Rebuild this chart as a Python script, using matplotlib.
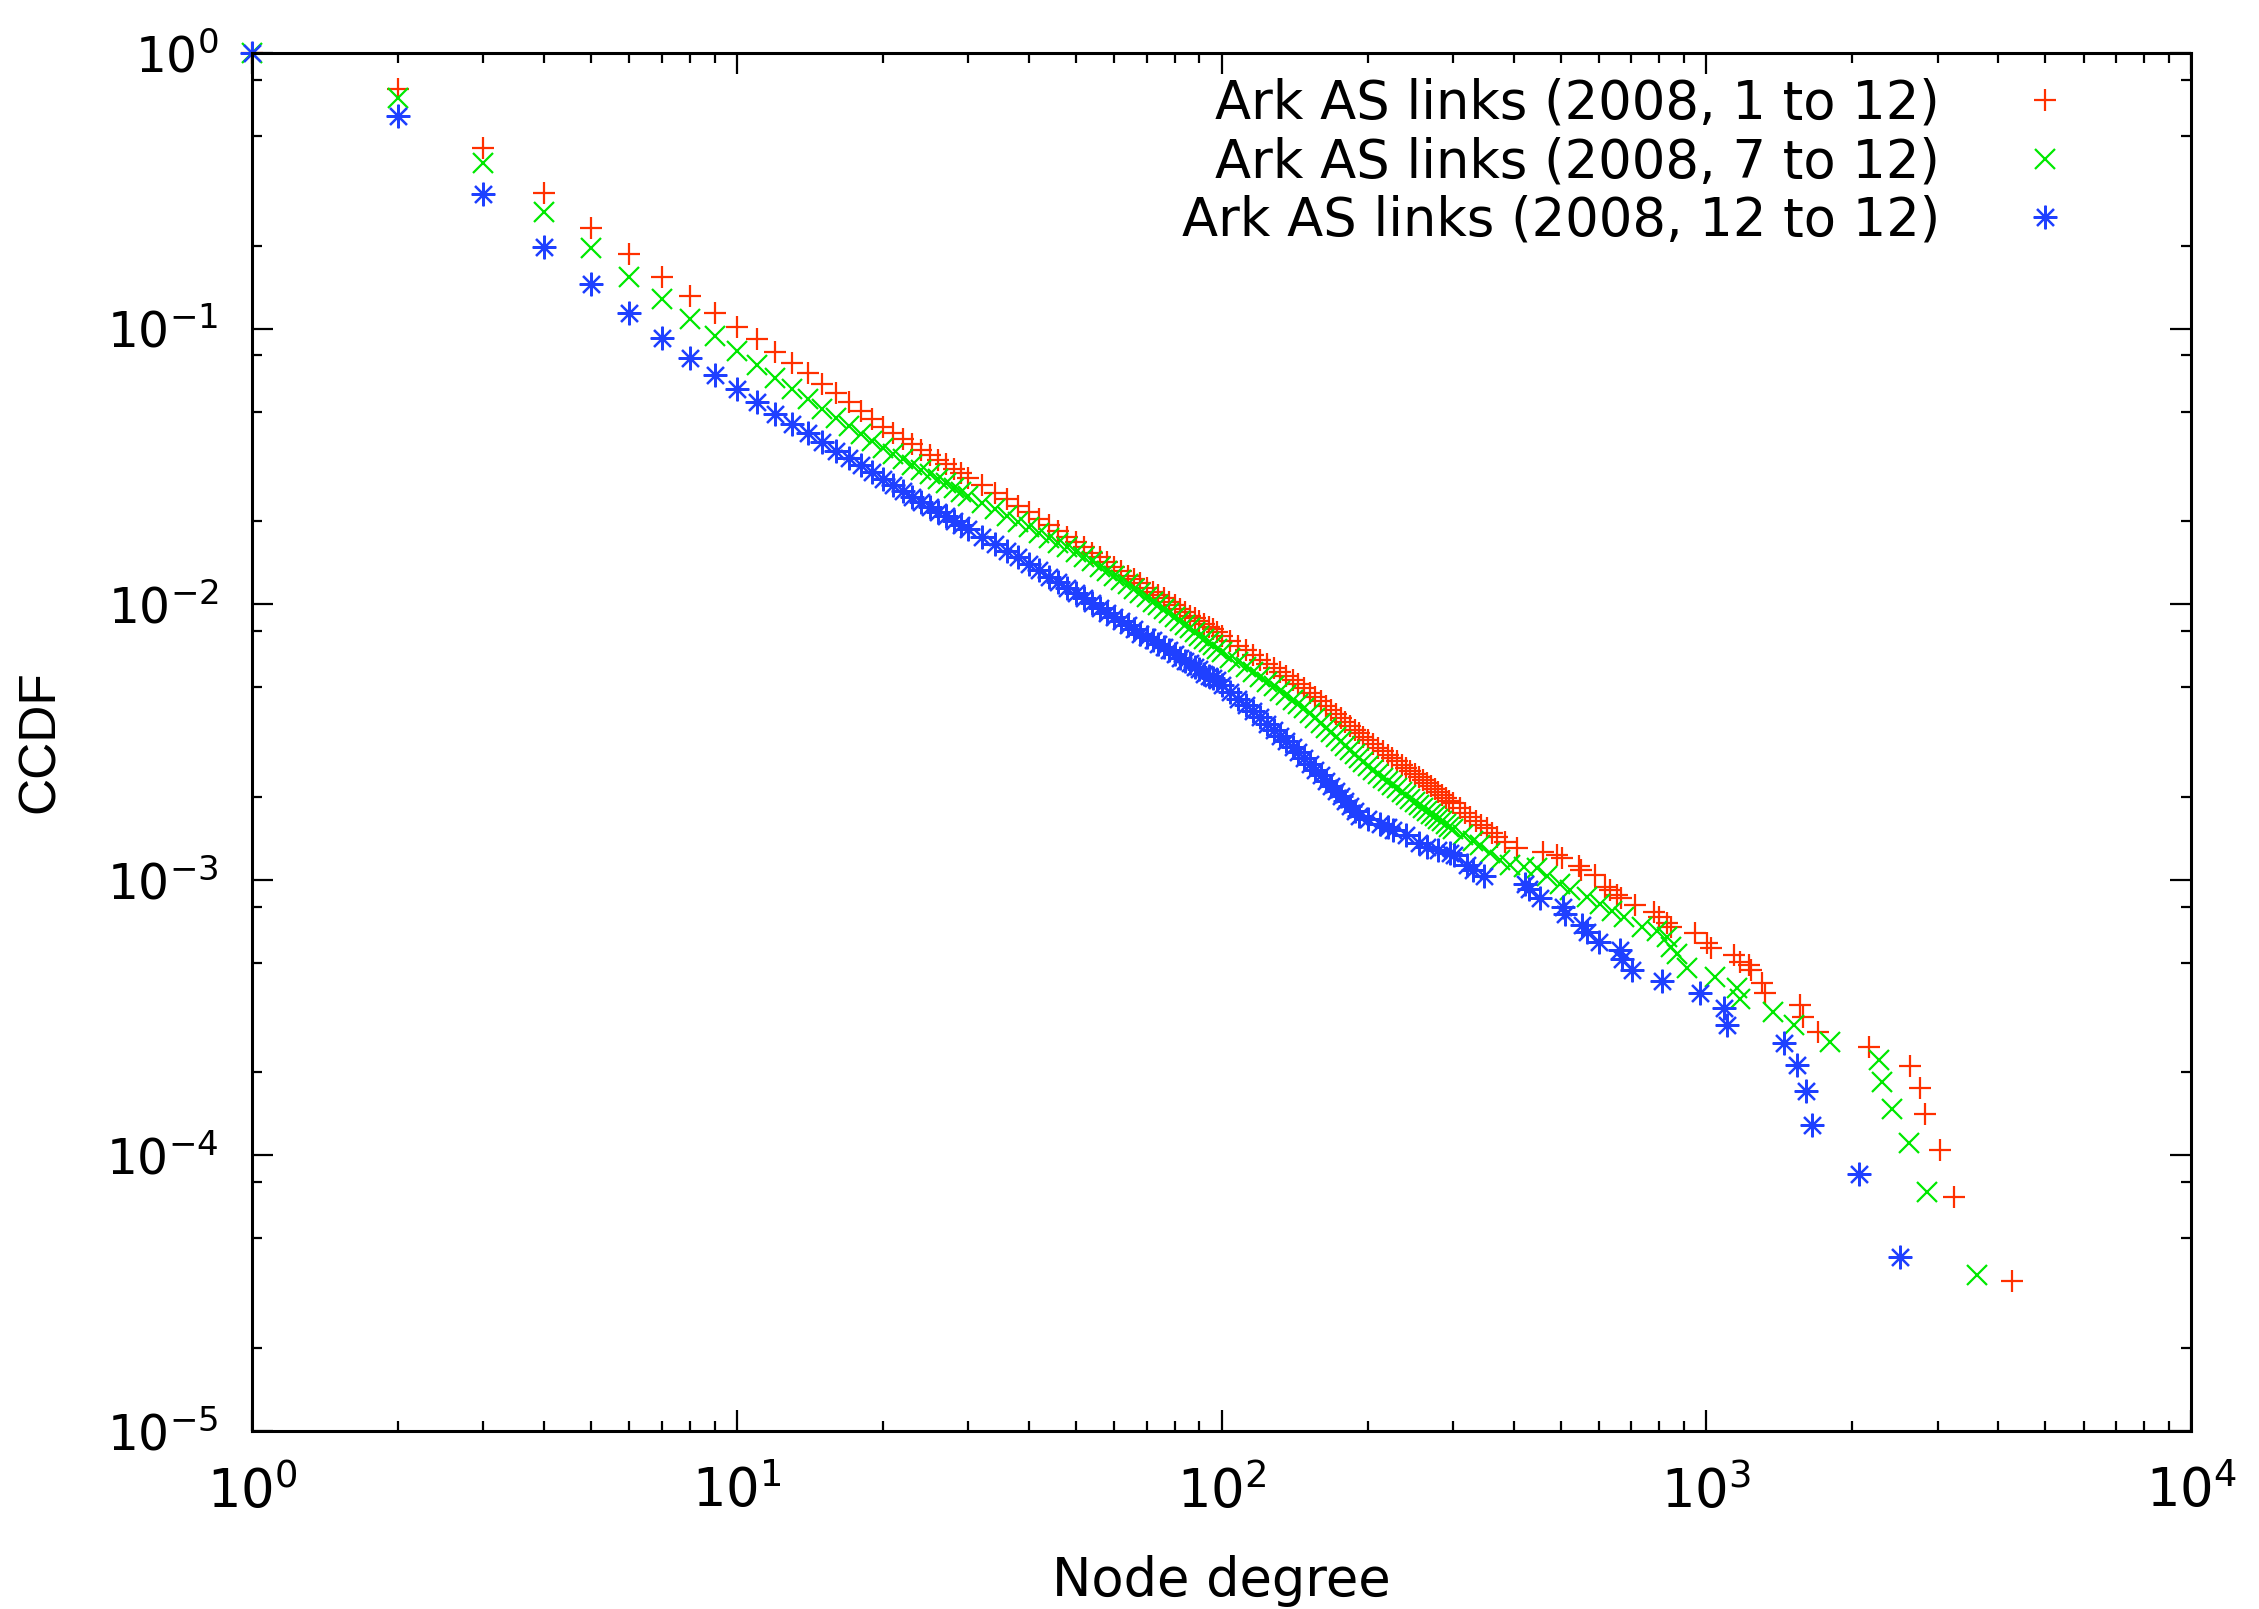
import matplotlib
matplotlib.use("Agg")
import matplotlib.pyplot as plt
from matplotlib.ticker import LogLocator, FixedLocator, FixedFormatter, NullFormatter

plt.rcParams['font.family'] = ['DejaVu Sans']
plt.rcParams['mathtext.fontset'] = 'custom'
plt.rcParams['mathtext.rm'] = 'DejaVu Sans'
plt.rcParams['mathtext.it'] = 'DejaVu Sans'
plt.rcParams['mathtext.default'] = 'regular'

# node degrees shared by the dense part of the three curves
deg_dense = [1, 2, 3, 4, 5, 6, 7, 8, 9, 10, 11, 12, 13, 14, 15, 16, 17, 18, 19, 20,
             21, 22, 23, 24, 25, 26, 27, 28, 29, 30,
             32, 34, 36, 38, 40, 42, 44, 46, 48, 50, 52, 54, 56, 58, 60, 62, 64, 66, 68, 70,
             72, 74, 76, 78, 80, 82, 84, 86, 88, 90, 92, 94, 96, 98, 100,
             104, 108, 112, 116, 120, 124, 128, 132, 136, 140, 144, 148, 152, 156, 160,
             164, 168, 172, 176, 180, 184, 188, 192, 196, 200]
deg_mid = [205, 210, 215, 220, 225, 230, 235, 240, 245, 250,
           255, 260, 265, 270, 275, 280, 285, 290, 295, 300]

# Ark AS links (2008, 1 to 12)
red_dense = [1.0, 0.738, 0.453, 0.31, 0.232, 0.186, 0.154, 0.1317, 0.1136, 0.1016,
             0.0914, 0.0825, 0.0748, 0.0688, 0.0631, 0.0582, 0.0540, 0.0503, 0.0470, 0.0441,
             0.0419, 0.0399, 0.0381, 0.0364, 0.0349, 0.0335, 0.0322, 0.0310, 0.0299, 0.0288,
             0.0270, 0.0254, 0.0240, 0.0227, 0.0216, 0.0204, 0.0194, 0.0184, 0.0176, 0.0168,
             0.0161, 0.0154, 0.0148, 0.0142, 0.0137, 0.0132, 0.0127, 0.0123, 0.0119, 0.0115,
             0.0111, 0.0108, 0.0105, 0.0102, 0.0099, 0.0096, 0.0094, 0.0091, 0.0089, 0.0087,
             0.0085, 0.0083, 0.0081, 0.0079, 0.0077,
             0.00738, 0.00708, 0.00680, 0.00654, 0.00630, 0.00607, 0.00586, 0.00566, 0.00547, 0.00529,
             0.00512, 0.00497, 0.00478, 0.00460, 0.00444, 0.00428, 0.00413, 0.00399, 0.00386, 0.00374,
             0.00362, 0.00351, 0.00340, 0.00330, 0.00321]
red_mid = [0.00311, 0.00302, 0.00293, 0.00285, 0.00277, 0.00269, 0.00262, 0.00255, 0.00249, 0.00243,
           0.00237, 0.00231, 0.00225, 0.00219, 0.00214, 0.00209, 0.00204, 0.00199, 0.00194, 0.00190]
red_tail_x = [310, 318, 326, 335, 343, 352, 361, 370, 385, 406,
              461, 491, 503, 545, 552, 590, 618, 633, 653, 665,
              713, 778, 797, 829, 845, 948, 1002, 1020, 1138, 1172,
              1222, 1236, 1301, 1322, 1560, 1585, 1702, 2168, 2630, 2760,
              2818, 3037, 3234, 4270]
red_tail_y = [0.00182, 0.00175, 0.00169, 0.00163, 0.00158, 0.00154, 0.00148, 0.00143, 0.00137, 0.00130,
              0.00126, 0.00123, 0.00120, 0.00112, 0.00109, 0.00104, 0.00094, 0.00092, 0.00088, 0.00086,
              0.00081, 0.000766, 0.000735, 0.000695, 0.000676, 0.00064, 0.000589, 0.000564, 0.000533, 0.000504,
              0.00049, 0.000471, 0.000421, 0.000387, 0.000351, 0.000319, 0.000281, 0.000247, 0.000211, 0.000176,
              0.000141, 0.000105, 7.05e-5, 3.51e-5]

# Ark AS links (2008, 7 to 12)
green_dense = [1.0, 0.685, 0.398, 0.266, 0.196, 0.154, 0.1277, 0.108, 0.094, 0.0832,
               0.0738, 0.0663, 0.0602, 0.0554, 0.0512, 0.0475, 0.0443, 0.0415, 0.0390, 0.0368,
               0.0351, 0.0336, 0.0321, 0.0308, 0.0296, 0.0285, 0.0275, 0.0265, 0.0256, 0.0248,
               0.0234, 0.0221, 0.0209, 0.0199, 0.0190, 0.0182, 0.0174, 0.0167, 0.0161, 0.0155,
               0.0149, 0.0143, 0.0137, 0.0132, 0.0127, 0.0122, 0.0118, 0.0114, 0.0110, 0.0106,
               0.0102, 0.0099, 0.0096, 0.0093, 0.0090, 0.0087, 0.0084, 0.0082, 0.0079, 0.0077,
               0.0075, 0.0073, 0.0071, 0.0069, 0.0067,
               0.00641, 0.00615, 0.00590, 0.00567, 0.00546, 0.00524, 0.00504, 0.00485, 0.00467, 0.00450,
               0.00435, 0.00420, 0.00403, 0.00386, 0.00371, 0.00357, 0.00343, 0.00330, 0.00318, 0.00307,
               0.00296, 0.00286, 0.00277, 0.00268, 0.00259]
green_mid = [0.00251, 0.00243, 0.00235, 0.00228, 0.00221, 0.00215, 0.00209, 0.00203, 0.00197, 0.00192,
             0.00187, 0.00183, 0.00178, 0.00174, 0.00170, 0.00166, 0.00163, 0.00159, 0.00156, 0.00153]
green_tail_x = [315, 330, 341, 357, 375, 394, 420, 447, 468, 499,
                524, 566, 604, 640, 675, 736, 790, 829, 845, 869,
                912, 1043, 1156, 1175, 1374, 1513, 1800, 2265, 2300, 2415,
                2612, 2850, 3614]
green_tail_y = [0.00145, 0.00138, 0.00134, 0.00125, 0.00118, 0.00113, 0.00111, 0.00110, 0.00103, 0.00097,
                0.00092, 0.00087, 0.00082, 0.00077, 0.000735, 0.000676, 0.00065, 0.000622, 0.000571, 0.00054,
                0.000477, 0.000445, 0.000404, 0.000371, 0.000332, 0.000297, 0.000259, 0.000222, 0.000185, 0.000148,
                0.000111, 7.38e-5, 3.68e-5]

# Ark AS links (2008, 12 to 12), dense part stops at 192
blue_dense = [1.0, 0.592, 0.308, 0.198, 0.145, 0.114, 0.0922, 0.0784, 0.0678, 0.0602,
              0.0543, 0.049, 0.045, 0.0417, 0.0387, 0.0361, 0.0339, 0.0319, 0.0301, 0.0285,
              0.0271, 0.0258, 0.0246, 0.0236, 0.0226, 0.0217, 0.0209, 0.0201, 0.0194, 0.0187,
              0.0175, 0.0165, 0.0156, 0.0148, 0.0140, 0.0133, 0.0126, 0.0120, 0.0115, 0.0110,
              0.0105, 0.0101, 0.0097, 0.0093, 0.0090, 0.0087, 0.0084, 0.0081, 0.0078, 0.0076,
              0.0074, 0.0072, 0.0070, 0.0068, 0.0066, 0.0064, 0.0062, 0.0061, 0.0059, 0.0058,
              0.0056, 0.0055, 0.0054, 0.0053, 0.0051,
              0.00481, 0.00455, 0.00431, 0.00409, 0.00389, 0.00369, 0.00351, 0.00334, 0.00318, 0.00303,
              0.00290, 0.00277, 0.00264, 0.00251, 0.00240, 0.00229, 0.00219, 0.00210, 0.00201, 0.00193,
              0.00185, 0.00178, 0.00171]
blue_tail_x = [200, 212, 220, 226, 240, 255, 265, 280, 296, 301,
               321, 330, 347, 423, 430, 454, 507, 510, 553, 568,
               599, 664, 670, 702, 809, 971, 1088, 1102, 1442, 1537,
               1607, 1651, 2060, 2512]
blue_tail_y = [0.00166, 0.00160, 0.00155, 0.00152, 0.00145, 0.00136, 0.00132, 0.00128, 0.00125, 0.00123,
               0.00113, 0.00109, 0.00103, 0.00097, 0.00093, 0.00086, 0.000798, 0.000755, 0.000685, 0.000648,
               0.000596, 0.000556, 0.000518, 0.000471, 0.000428, 0.000387, 0.000342, 0.000297, 0.000256, 0.000213,
               0.000171, 0.000129, 8.57e-5, 4.29e-5]

labels = ['Ark AS links (2008, 1 to 12)', 'Ark AS links (2008, 7 to 12)', 'Ark AS links (2008, 12 to 12)']
colors = ['#ff3000', '#00e800', '#1f40ff']

x_red = deg_dense + deg_mid + red_tail_x
y_red = red_dense + red_mid + red_tail_y
x_green = deg_dense + deg_mid + green_tail_x
y_green = green_dense + green_mid + green_tail_y
x_blue = deg_dense[:len(blue_dense)] + blue_tail_x
y_blue = blue_dense + blue_tail_y

fig = plt.figure(figsize=(22.59, 16.09), dpi=100)
ax = fig.add_axes([0.1116, 0.1106, 0.8584, 0.8564])

ax.plot(x_red, y_red, linestyle='none', marker='+', ms=16, mew=1.6, color=colors[0], label=labels[0], clip_on=False)
ax.plot(x_green, y_green, linestyle='none', marker='x', ms=14, mew=1.6, color=colors[1], label=labels[1], clip_on=False)
ax.plot(x_blue, y_blue, linestyle='none', marker=(8, 2, 0), ms=17, mew=1.6, color=colors[2], label=labels[2], clip_on=False)

ax.set_xscale('log')
ax.set_yscale('log')
ax.set_xlim(1, 1e4)
ax.set_ylim(1e-5, 1)

ax.xaxis.set_major_locator(FixedLocator([1, 10, 100, 1000, 10000]))
ax.xaxis.set_major_formatter(FixedFormatter([r'$10^{0}$', r'$10^{1}$', r'$10^{2}$', r'$10^{3}$', r'$10^{4}$']))
ax.xaxis.set_minor_locator(LogLocator(base=10, subs=[2, 3, 4, 5, 6, 7, 8, 9], numticks=20))
ax.xaxis.set_minor_formatter(NullFormatter())
ax.yaxis.set_major_locator(FixedLocator([1e-5, 1e-4, 1e-3, 1e-2, 1e-1, 1]))
ax.yaxis.set_major_formatter(FixedFormatter([r'$10^{-5}$', r'$10^{-4}$', r'$10^{-3}$', r'$10^{-2}$', r'$10^{-1}$', r'$10^{0}$']))
ax.yaxis.set_minor_locator(LogLocator(base=10, subs=[2, 5, 8], numticks=20))
ax.yaxis.set_minor_formatter(NullFormatter())

ax.tick_params(which='both', direction='in', top=True, right=True, width=1.6)
ax.tick_params(which='major', length=15)
ax.tick_params(which='minor', length=7.5)
ax.tick_params(axis='x', which='major', labelsize=38, pad=25)
ax.tick_params(axis='y', which='major', labelsize=35, pad=24)
for s in ax.spines.values():
    s.set_linewidth(2.2)

ax.set_xlabel('Node degree', fontsize=38, labelpad=26)
ax.set_ylabel('CCDF', fontsize=37, labelpad=30, family=['Liberation Sans', 'DejaVu Sans'])

leg = ax.legend(loc='upper right', bbox_to_anchor=(0.952, 0.982), frameon=False, markerfirst=False,
                fontsize=38, handlelength=2.0, handletextpad=1.0, labelspacing=0.12,
                borderpad=0, borderaxespad=0)

fig.savefig('out.png', dpi=100)
